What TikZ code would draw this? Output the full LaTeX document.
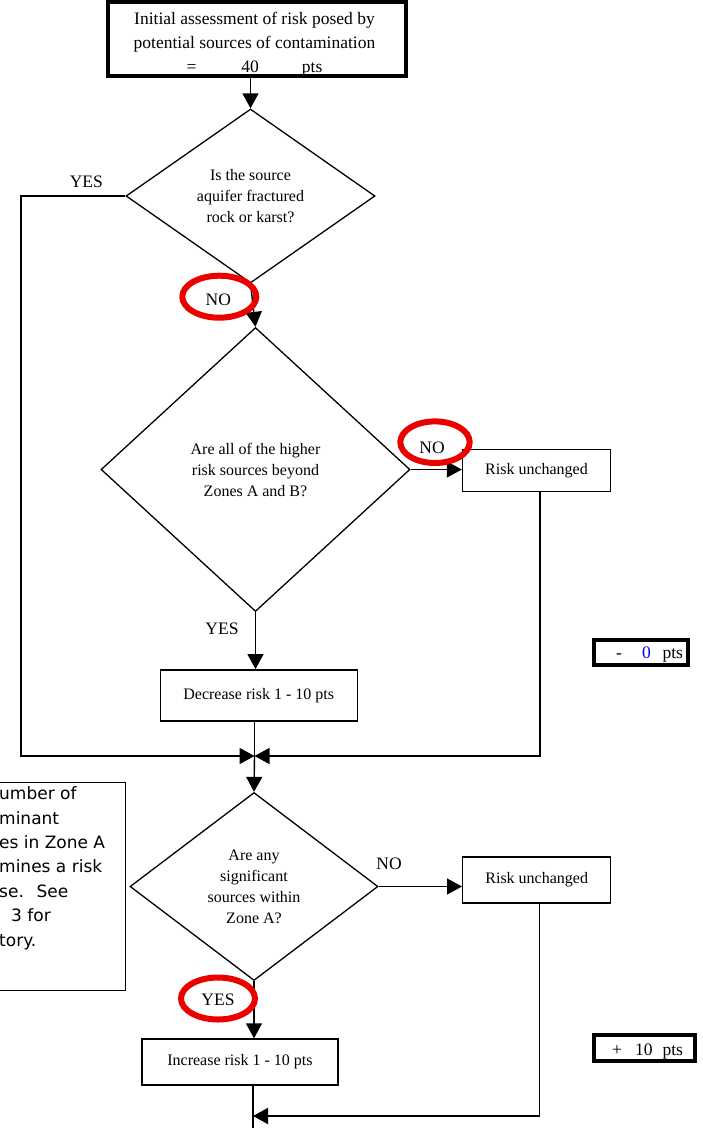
\documentclass[tikz,border=0pt]{standalone}
\usepackage{fontspec}
\setmainfont{Liberation Serif}
\newfontfamily\notefont{DejaVu Sans}
\usetikzlibrary{shapes.geometric,arrows.meta,calc}
\definecolor{ringred}{RGB}{235,0,0}
\definecolor{ptsblue}{RGB}{0,0,255}
\begin{document}
\begin{tikzpicture}[x=1pt,y=-1pt,
  every node/.style={inner sep=0pt},
  box/.style={draw, line width=1.4pt, rectangle, font=\fontsize{16}{19}\selectfont},
  thickbox/.style={draw, line width=4pt, rectangle},
  dia/.style={draw, line width=1.3pt, diamond, inner sep=-8pt, align=center, font=\fontsize{16}{21}\selectfont},
  lbl/.style={font=\fontsize{17.5}{20}\selectfont},
  big/.style={font=\fontsize{17.5}{24}\selectfont, align=center},
  arr/.style={line width=1.4pt, -{Triangle[length=15pt,width=16pt]}},
  ln/.style={line width=1.4pt},
  ring/.style={draw=ringred, line width=6pt, ellipse}
]
\useasboundingbox (0,0) rectangle (703,1128);

% top box
\node[thickbox, minimum width=298pt, minimum height=74pt] (top) at (257,38.5) {};
\node[big] (toptext) at (254.5,44) {Initial assessment of risk posed by\\potential sources of contamination\\=\hspace*{45pt}40\hspace*{43pt}pts};

% decisions
\node[dia, minimum width=249pt, minimum height=174pt] (d1) at (250.5,196) {Is the source\\aquifer fractured\\rock or karst?};
\node[dia, minimum width=309pt, minimum height=284pt] (d2) at (255.5,469.5) {Are all of the higher\\risk sources beyond\\Zones A and B?};
\node[dia, minimum width=248pt, minimum height=188pt] (d3) at (254,886.5) {Are any\\significant\\sources within\\Zone A?};

% process boxes
\node[box, minimum width=148pt, minimum height=42.5pt] (ru1) at (536.5,470.5) {Risk unchanged};
\node[box, minimum width=197pt, minimum height=51pt] (dec) at (258.7,695.3) {Decrease risk 1 - 10 pts};
\node[box, minimum width=148pt, minimum height=46pt] (ru2) at (536.7,880) {Risk unchanged};
\node[box, minimum width=196pt, minimum height=46pt] (inc) at (240,1062) {Increase risk 1 - 10 pts};

% points boxes
\node[thickbox, minimum width=94pt, minimum height=25.8pt] (p1) at (641,652.4) {};
\node[lbl] (p1text) at (649.5,655) {-\hspace*{20.2pt}{\color{ptsblue}0}\hspace*{11.75pt}pts};
\node[thickbox, minimum width=101pt, minimum height=26.5pt] (p2) at (644,1047.8) {};
\node[lbl] (p2text) at (647.5,1052) {+\hspace*{13.1pt}10\hspace*{10pt}pts};

% note box (cut off at left)
\draw[line width=1.3pt] (0,782.3) -- (125.3,782.3) -- (125.3,990.7) -- (0,990.7);
\node[anchor=north west, align=left, font=\notefont\fontsize{17}{24.4}\selectfont] (note) at (-1,786.5)
  {umber of\\minant\\es in Zone A\\mines a risk\\se.~ See\\\hspace*{12pt}3 for\\tory.};

% connector coordinates
\coordinate (yl) at (21,196);
\coordinate (j) at (254.5,756);
\coordinate (k) at (253,1116);
\coordinate (bot) at (253,1129);

% connectors
\draw[arr] (top.south -| d1.north) -- (d1.north);
\draw[arr] (d1.west) -- (yl) |- (j);
\draw[arr] (d1.south) -- (d2.north);
\draw[arr] (d2.east) -- (d2.east -| ru1.west);
\draw[arr] ([xshift=3.5pt]ru1.south) |- (j);
\draw[arr] (d2.south) -- (d2.south |- dec.north);
\draw[ln] (j |- dec.south) -- (j);
\draw[arr] (j) -- (d3.north);
\draw[arr] (d3.east) -- (d3.east -| ru2.west);
\draw[arr] (d3.south) -- (d3.south |- inc.north);
\draw[arr] ([xshift=2.5pt]ru2.south) |- (k);
\draw[ln] (k |- inc.south) -- (bot);

% branch labels
\node[lbl] (yes1) at (86.3,181.7) {YES};
\node[lbl] (no1) at (218.3,299.3) {NO};
\node[lbl] (no2) at (432,447.7) {NO};
\node[lbl] (yes2) at (222,628.3) {YES};
\node[lbl] (no3) at (389,864) {NO};
\node[lbl] (yes3) at (218,1000) {YES};

% red highlight rings
\node[ring, minimum width=74pt, minimum height=42pt] (r1) at (219.3,296.7) {};
\node[ring, minimum width=69.4pt, minimum height=41.6pt] (r2) at (435,442.2) {};
\node[ring, minimum width=74pt, minimum height=42pt] (r3) at (218,998.5) {};
\end{tikzpicture}
\end{document}
